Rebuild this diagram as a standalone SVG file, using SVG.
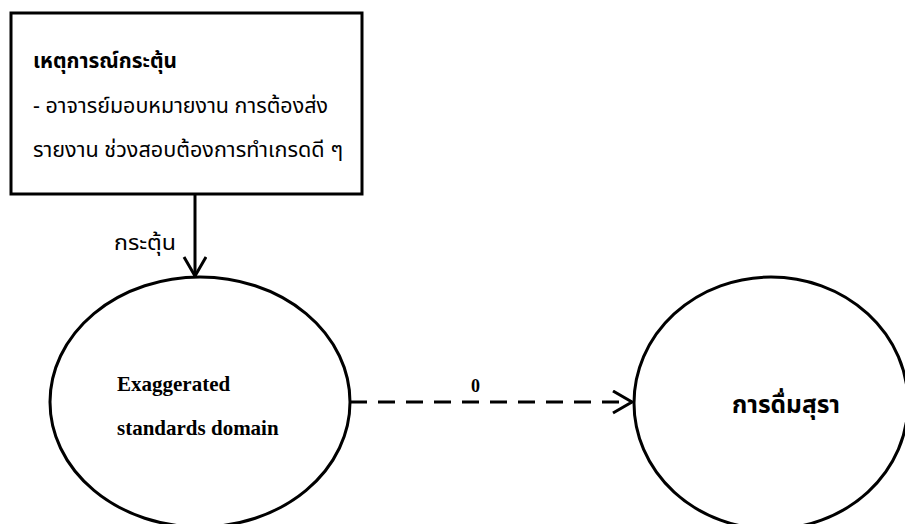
<svg xmlns="http://www.w3.org/2000/svg" width="905" height="524" viewBox="0 0 905 524">
  <style>
    .shape { fill: #fff; stroke: #000; stroke-width: 3; }
    .edge { fill: none; stroke: #000; stroke-width: 3; }
    .th { font-family: "Noto Sans Thai", "Noto Sans", "DejaVu Sans", sans-serif; fill: #000; }
    .en { font-family: "Liberation Serif", serif; font-weight: bold; fill: #000; }
  </style>
  <defs>
    <marker id="vhead" markerWidth="24" markerHeight="26" refX="20" refY="12" orient="auto" markerUnits="userSpaceOnUse">
      <path d="M1,1 L20,12 L1,23" fill="none" stroke="#000" stroke-width="3"/>
    </marker>
  </defs>
  <rect width="905" height="524" fill="#fff"/>

  <g id="connectors">
    <line class="edge" x1="195" y1="194" x2="195" y2="276" marker-end="url(#vhead)"/>
    <text class="th" x="114" y="250" font-size="22" textLength="62" lengthAdjust="spacingAndGlyphs">กระตุ้น</text>
    <line class="edge" x1="350" y1="402" x2="632" y2="402" stroke-dasharray="17,11" marker-end="url(#vhead)"/>
    <text class="en" x="471" y="392" font-size="18">0</text>
  </g>

  <g id="trigger">
    <rect class="shape" x="11" y="13" width="351" height="181"/>
    <text class="th" x="33" y="68" font-size="22" font-weight="bold" textLength="144" lengthAdjust="spacingAndGlyphs">เหตุการณ์กระตุ้น</text>
    <text class="th" x="33" y="113" font-size="22" textLength="295" lengthAdjust="spacingAndGlyphs">- อาจารย์มอบหมายงาน การต้องส่ง</text>
    <text class="th" x="33" y="157" font-size="22" textLength="310" lengthAdjust="spacingAndGlyphs">รายงาน ช่วงสอบต้องการทำเกรดดี  ๆ</text>
  </g>

  <g id="standards">
    <ellipse class="shape" cx="200" cy="402" rx="150" ry="125"/>
    <text class="en" x="117" y="391" font-size="21">Exaggerated</text>
    <text class="en" x="117" y="435" font-size="21">standards domain</text>
  </g>

  <g id="drinking">
    <ellipse class="shape" cx="771" cy="403" rx="137" ry="126"/>
    <text class="th" x="732" y="413" font-size="24" font-weight="bold" textLength="108" lengthAdjust="spacingAndGlyphs">การดื่มสุรา</text>
  </g>
</svg>
